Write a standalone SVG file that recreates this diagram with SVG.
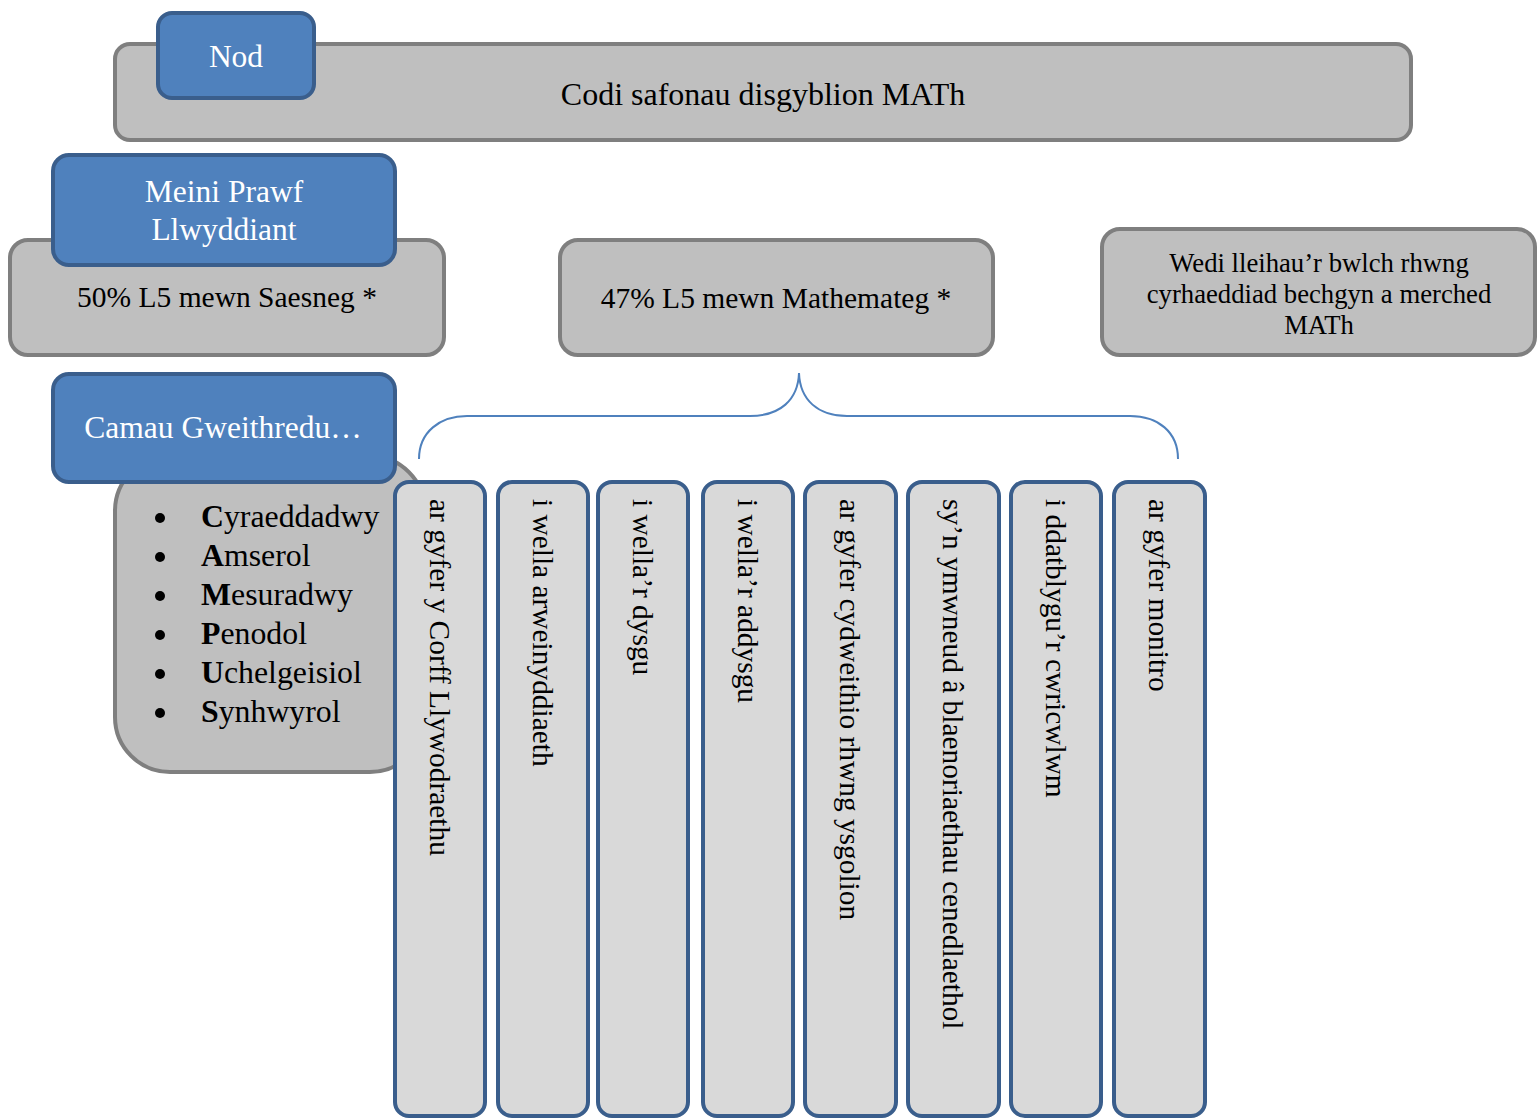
<svg xmlns="http://www.w3.org/2000/svg" width="1537" height="1120" viewBox="0 0 1537 1120">
<style>
.g{fill:#bfbfbf;stroke:#7f7f7f;stroke-width:4}
.b{fill:#4f81bd;stroke:#3a5e8c;stroke-width:4}
.v{fill:#d9d9d9;stroke:#3a5e8c;stroke-width:4}
text{font-family:"Liberation Serif","Times New Roman",serif;fill:#000}
.w{fill:#fff;font-size:31.5px;text-anchor:middle}
.t{font-size:29.5px;text-anchor:middle}
.r{font-size:26.7px;text-anchor:middle}
.bl{font-size:31.8px}
.vt{font-size:29.4px}
</style>
<rect width="1537" height="1120" fill="#fff"/>
<g id="goal">
<rect class="g" x="115" y="44" width="1296" height="96" rx="15"/>
<text x="763" y="105" style="font-size:32px;text-anchor:middle">Codi safonau disgyblion MATh</text>
</g>
<g id="nod">
<rect class="b" x="158" y="13" width="156" height="85" rx="14"/>
<text class="w" x="236" y="67">Nod</text>
</g>
<g id="crit1">
<rect class="g" x="10" y="240" width="434" height="115" rx="18"/>
<text class="t" x="227" y="307">50% L5 mewn Saesneg *</text>
</g>
<g id="crit2">
<rect class="g" x="560" y="240" width="433" height="115" rx="18"/>
<text class="t" x="776" y="308">47% L5 mewn Mathemateg *</text>
</g>
<g id="crit3">
<rect class="g" x="1102" y="229" width="433" height="126" rx="18"/>
<text class="r" x="1319" y="272">Wedi lleihau’r bwlch rhwng</text>
<text class="r" x="1319" y="303">cyrhaeddiad bechgyn a merched</text>
<text class="r" x="1319" y="334">MATh</text>
</g>
<g id="meini">
<rect class="b" x="53" y="155" width="342" height="110" rx="16"/>
<text class="w" x="224" y="202">Meini Prawf</text>
<text class="w" x="224" y="240">Llwyddiant</text>
</g>
<g id="smart">
<rect class="g" x="115" y="456" width="310" height="316" rx="55"/>
<g class="bl">
<circle cx="160" cy="518" r="5"/><text x="201" y="527"><tspan font-weight="bold">C</tspan>yraeddadwy</text>
<circle cx="160" cy="557" r="5"/><text x="201" y="566"><tspan font-weight="bold">A</tspan>mserol</text>
<circle cx="160" cy="596" r="5"/><text x="201" y="605"><tspan font-weight="bold">M</tspan>esuradwy</text>
<circle cx="160" cy="635" r="5"/><text x="201" y="644"><tspan font-weight="bold">P</tspan>enodol</text>
<circle cx="160" cy="674" r="5"/><text x="201" y="683"><tspan font-weight="bold">U</tspan>chelgeisiol</text>
<circle cx="160" cy="713" r="5"/><text x="201" y="722"><tspan font-weight="bold">S</tspan>ynhwyrol</text>
</g>
</g>
<g id="camau">
<rect class="b" x="53" y="374" width="342" height="108" rx="16"/>
<text class="w" x="223" y="438">Camau Gweithredu…</text>
</g>
<g id="connectors">
<path d="M419,459 C419,432 440,416 467,416 L750,416 C780,416 798,400 799,373 C800,400 818,416 847,416 L1130,416 C1158,416 1178,432 1178,459" fill="none" stroke="#4f81bd" stroke-width="2"/>
</g>
<g id="a1"><rect class="v" x="395" y="482" width="90" height="634" rx="14"/><text class="vt" transform="translate(430,499) rotate(90)">ar gyfer y Corff Llywodraethu</text></g>
<g id="a2"><rect class="v" x="498" y="482" width="90" height="634" rx="14"/><text class="vt" transform="translate(533,499) rotate(90)">i wella arweinyddiaeth</text></g>
<g id="a3"><rect class="v" x="598" y="482" width="90" height="634" rx="14"/><text class="vt" transform="translate(633,499) rotate(90)">i wella’r dysgu</text></g>
<g id="a4"><rect class="v" x="703" y="482" width="90" height="634" rx="14"/><text class="vt" transform="translate(738,499) rotate(90)">i wella’r addysgu</text></g>
<g id="a5"><rect class="v" x="805" y="482" width="91" height="634" rx="14"/><text class="vt" transform="translate(840,499) rotate(90)">ar gyfer cydweithio rhwng ysgolion</text></g>
<g id="a6"><rect class="v" x="908" y="482" width="91" height="634" rx="14"/><text class="vt" transform="translate(943,499) rotate(90)">sy’n ymwneud â blaenoriaethau cenedlaethol</text></g>
<g id="a7"><rect class="v" x="1011" y="482" width="90" height="634" rx="14"/><text class="vt" transform="translate(1046,499) rotate(90)">i ddatblygu’r cwricwlwm</text></g>
<g id="a8"><rect class="v" x="1114" y="482" width="91" height="634" rx="14"/><text class="vt" transform="translate(1149,499) rotate(90)">ar gyfer monitro</text></g>
</svg>
